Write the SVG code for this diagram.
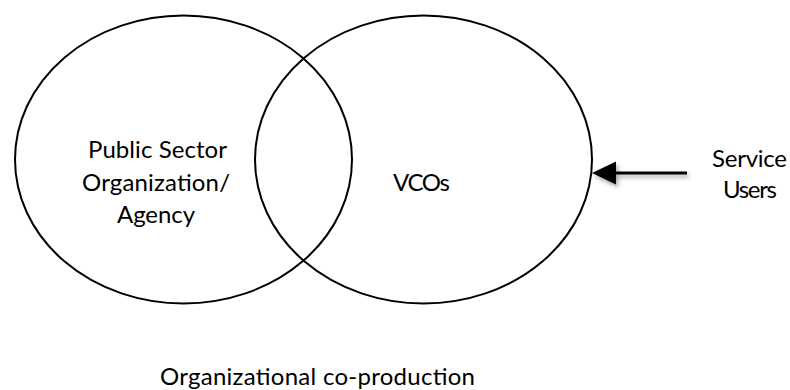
<svg xmlns="http://www.w3.org/2000/svg" width="790" height="390" viewBox="0 0 790 390">
  <style>
    .set { fill: none; stroke: #000; stroke-width: 2; }
    .lbl { font-family: Lato, "Open Sans", "Liberation Sans", sans-serif; font-size: 24px; fill: #000; text-anchor: middle; }
  </style>
  <defs>
    <filter id="soft-shadow" x="-20%" y="-50%" width="140%" height="200%">
      <feDropShadow dx="2" dy="3" stdDeviation="2" flood-color="#000" flood-opacity="0.35"/>
    </filter>
  </defs>
  <rect width="790" height="390" fill="#fff"/>

  <g id="public-sector">
    <ellipse class="set" cx="183.5" cy="159.5" rx="168.5" ry="144"/>
    <text class="lbl" x="157.5" y="158" textLength="139">Public Sector</text>
    <text class="lbl" x="156" y="190.5" textLength="148">Organization/</text>
    <text class="lbl" x="156" y="222.5" textLength="78">Agency</text>
  </g>

  <g id="vcos">
    <ellipse class="set" cx="423.5" cy="159.5" rx="168.5" ry="144"/>
    <text class="lbl" x="421.5" y="191" textLength="57">VCOs</text>
  </g>

  <g id="service-users">
    <text class="lbl" x="749.5" y="167" textLength="75">Service</text>
    <text class="lbl" x="750" y="197.5" textLength="54">Users</text>
  </g>

  <g id="connectors" filter="url(#soft-shadow)">
    <line x1="687" y1="173" x2="612" y2="173" stroke="#000" stroke-width="3"/>
    <polygon points="592,173 616,161.5 616,184.5" fill="#000"/>
  </g>

  <text id="caption" class="lbl" x="317.5" y="385" textLength="315">Organizational co-production</text>
</svg>
